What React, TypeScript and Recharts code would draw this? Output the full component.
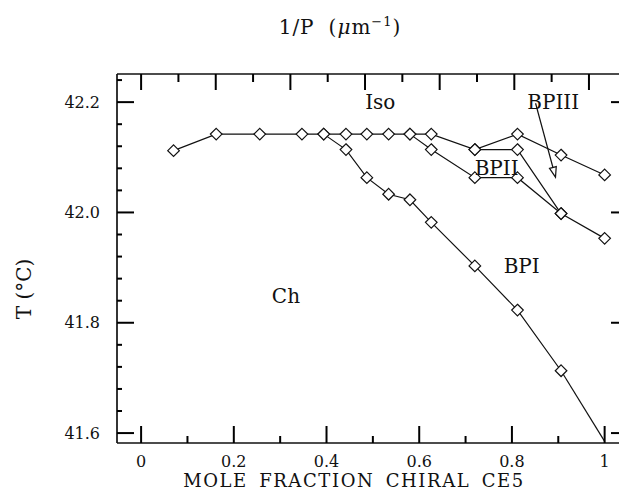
import React from 'react';
import {
  LineChart,
  Line,
  XAxis,
  YAxis,
  ReferenceLine,
  ReferenceDot,
  Customized,
} from 'recharts';

// mole fraction / temperature (°C) points
const isoBoundary = [
  { x: 0.07, t: 42.112 },
  { x: 0.162, t: 42.142 },
  { x: 0.256, t: 42.142 },
  { x: 0.347, t: 42.142 },
  { x: 0.394, t: 42.142 },
  { x: 0.442, t: 42.142 },
  { x: 0.487, t: 42.142 },
  { x: 0.534, t: 42.142 },
  { x: 0.58, t: 42.142 },
  { x: 0.626, t: 42.142 },
  { x: 0.72, t: 42.114 },
  { x: 0.812, t: 42.142 },
  { x: 0.906, t: 42.104 },
  { x: 1.0, t: 42.068 },
];

const bp3Boundary = [
  { x: 0.72, t: 42.114 },
  { x: 0.812, t: 42.114 },
  { x: 0.906, t: 41.998 },
];

const bp2Boundary = [
  { x: 0.58, t: 42.142 },
  { x: 0.626, t: 42.114 },
  { x: 0.72, t: 42.063 },
  { x: 0.812, t: 42.063 },
  { x: 0.906, t: 41.998 },
  { x: 1.0, t: 41.953 },
];

const bp1Boundary = [
  { x: 0.394, t: 42.142 },
  { x: 0.442, t: 42.114 },
  { x: 0.487, t: 42.063 },
  { x: 0.534, t: 42.033 },
  { x: 0.58, t: 42.023 },
  { x: 0.626, t: 41.982 },
  { x: 0.72, t: 41.903 },
  { x: 0.812, t: 41.823 },
  { x: 0.906, t: 41.713 },
];

// last stretch of BPI runs into the frame without a marker
const bp1Tail = [
  { x: 0.906, t: 41.713 },
  { x: 1.0, t: 41.585 },
];

const bottomMajor = [0, 0.2, 0.4, 0.6, 0.8, 1];
const bottomMinor = [0.1, 0.3, 0.5, 0.7, 0.9];
const topMajor = [0, 1, 2, 3, 4, 5, 6];
const topMinor = [0.5, 1.5, 2.5, 3.5, 4.5, 5.5];
const leftMajor = [41.6, 41.8, 42.0, 42.2];
const leftMinor = [
  41.64, 41.68, 41.72, 41.76, 41.84, 41.88, 41.92, 41.96, 42.04, 42.08, 42.12,
  42.16, 42.24,
];

const X_DOMAIN: [number, number] = [-0.052, 1.031];
const PITCH_SCALE = 6.21; // 1/P per unit mole fraction
const TOP_DOMAIN: [number, number] = [X_DOMAIN[0] * PITCH_SCALE, X_DOMAIN[1] * PITCH_SCALE];
const T_DOMAIN: [number, number] = [41.582, 42.251];

const FONT = '"DejaVu Serif", serif';
const INK = '#111';

// inward tick marks, drawn on reference dots sitting on the frame
type Dir = 'up' | 'down' | 'right' | 'left';
const tickMark = (dir: Dir, len: number) =>
  function TickMark({ cx, cy }: any) {
    if (cx == null || cy == null) return null;
    let x2 = cx;
    let y2 = cy;
    if (dir === 'up') y2 = cy - len;
    if (dir === 'down') y2 = cy + len;
    if (dir === 'right') x2 = cx + len;
    if (dir === 'left') x2 = cx - len;
    return (
      <polyline points={`${cx},${cy} ${x2},${y2}`} fill="none" stroke="#000" strokeWidth={2} />
    );
  };

const bottomLabel = (props: any) => {
  const v = props.payload.value;
  return (
    <text key={`b-${v}`} x={props.x} y={Number(props.y) + 24} textAnchor="middle" fontFamily={FONT} fontSize={16} fill={INK}>
      {String(v)}
    </text>
  );
};

const topLabel = (props: any) => {
  const v = props.payload.value;
  return (
    <text key={`t-${v}`} x={props.x} y={Number(props.y) - 5} textAnchor="middle" fontFamily={FONT} fontSize={16} fill={INK}>
      {String(v)}
    </text>
  );
};

const leftLabel = (props: any) => {
  const v = props.payload.value;
  return (
    <text key={`l-${v}`} x={Number(props.x) - 17} y={Number(props.y) + 5.5} textAnchor="end" fontFamily={FONT} fontSize={16} fill={INK}>
      {v.toFixed(1)}
    </text>
  );
};

function Diamond({ cx, cy }: any) {
  if (cx == null || cy == null) return null;
  const r = 5.8;
  return (
    <polygon
      points={`${cx},${cy - r} ${cx + r},${cy} ${cx},${cy + r} ${cx - r},${cy}`}
      fill="#fff"
      stroke={INK}
      strokeWidth={1.2}
    />
  );
}

function ArrowHead({ cx, cy }: any) {
  // points along the arrow from the BPIII label
  const dx = 0.261;
  const dy = 0.965;
  const len = 10;
  const half = 3.5;
  const bx = cx - dx * len;
  const by = cy - dy * len;
  return (
    <polygon
      points={`${cx},${cy} ${bx + dy * half},${by - dx * half} ${bx - dy * half},${by + dx * half}`}
      fill="#fff"
      stroke={INK}
      strokeWidth={1.2}
    />
  );
}

const phaseLabel = (text: string) =>
  function PhaseLabel({ cx, cy }: any) {
    return (
      <text
        x={cx}
        y={cy}
        textAnchor="middle"
        dominantBaseline="central"
        fontFamily={FONT}
        fontSize={20}
        fill={INK}
      >
        {text}
      </text>
    );
  };

function Titles() {
  return (
    <g fontFamily={FONT} fill={INK}>
      <text
        x={354}
        y={487}
        textAnchor="middle"
        fontSize={18}
        letterSpacing={1.6}
        wordSpacing={4}
      >
        MOLE FRACTION CHIRAL CE5
      </text>
      <text x={340} y={34} textAnchor="middle" fontSize={20} letterSpacing={1}>
        1/P
        <tspan dx={14}>(</tspan>
        <tspan fontStyle="italic">μ</tspan>m
        <tspan dy={-8} fontSize={13}>−1</tspan>
        <tspan dy={8}>)</tspan>
      </text>
      <text
        x={24}
        y={289}
        textAnchor="middle"
        dominantBaseline="central"
        fontSize={20}
        transform="rotate(-90 24 289)"
      >
        T (°C)
      </text>
    </g>
  );
}

const lineProps = {
  type: 'linear' as const,
  dataKey: 't',
  stroke: INK,
  strokeWidth: 1.2,
  xAxisId: 'bottom',
  yAxisId: 'left',
  isAnimationActive: false,
};

const dotAxes = { xAxisId: 'bottom', yAxisId: 'left', ifOverflow: 'visible' as const };

export default function App() {
  return (
    <div style={{ position: 'absolute', left: 0, top: 0, background: '#fff' }}>
      <LineChart width={619} height={496} margin={{ top: 0, right: 0, bottom: 0, left: 0 }}>
        <XAxis
          xAxisId="bottom"
          type="number"
          dataKey="x"
          orientation="bottom"
          domain={X_DOMAIN}
          allowDataOverflow
          ticks={bottomMajor}
          interval={0}
          height={53}
          tickSize={0}
          tickMargin={0}
          tickLine={false}
          tick={bottomLabel}
          axisLine={{ stroke: INK, strokeWidth: 1.7 }}
        />
        <XAxis
          xAxisId="top"
          type="number"
          orientation="top"
          domain={TOP_DOMAIN}
          allowDataOverflow
          ticks={topMajor}
          interval={0}
          height={74}
          tickSize={0}
          tickMargin={0}
          tickLine={false}
          tick={topLabel}
          axisLine={{ stroke: INK, strokeWidth: 1.7 }}
        />
        <YAxis
          yAxisId="left"
          type="number"
          domain={T_DOMAIN}
          allowDataOverflow
          ticks={leftMajor}
          interval={0}
          width={117}
          tickSize={0}
          tickMargin={0}
          tickLine={false}
          tick={leftLabel}
          axisLine={{ stroke: INK, strokeWidth: 1.7 }}
        />

        {/* tick marks */}
        {bottomMajor.map((v) => (
          <ReferenceDot key={`bM${v}`} {...dotAxes} x={v} y={T_DOMAIN[0]} shape={tickMark('up', 17)} />
        ))}
        {bottomMinor.map((v) => (
          <ReferenceDot key={`bm${v}`} {...dotAxes} x={v} y={T_DOMAIN[0]} shape={tickMark('up', 7)} />
        ))}
        {topMajor.map((v) => (
          <ReferenceDot key={`tM${v}`} {...dotAxes} x={v / PITCH_SCALE} y={T_DOMAIN[1]} shape={tickMark('down', 16)} />
        ))}
        {topMinor.map((v) => (
          <ReferenceDot key={`tm${v}`} {...dotAxes} x={v / PITCH_SCALE} y={T_DOMAIN[1]} shape={tickMark('down', 8)} />
        ))}
        {leftMajor.map((v) => (
          <ReferenceDot key={`lM${v}`} {...dotAxes} x={X_DOMAIN[0]} y={v} shape={tickMark('right', 17)} />
        ))}
        {leftMinor.map((v) => (
          <ReferenceDot key={`lm${v}`} {...dotAxes} x={X_DOMAIN[0]} y={v} shape={tickMark('right', 5)} />
        ))}
        {leftMajor.map((v) => (
          <ReferenceDot key={`rM${v}`} {...dotAxes} x={X_DOMAIN[1]} y={v} shape={tickMark('left', 8)} />
        ))}

        <Line {...lineProps} data={isoBoundary} dot={<Diamond />} />
        <Line {...lineProps} data={bp3Boundary} dot={<Diamond />} />
        <Line {...lineProps} data={bp2Boundary} dot={<Diamond />} />
        <Line {...lineProps} data={bp1Tail} dot={false} />
        <Line {...lineProps} data={bp1Boundary} dot={<Diamond />} />

        <ReferenceLine
          xAxisId="bottom"
          yAxisId="left"
          segment={[
            { x: 0.851, y: 42.198 },
            { x: 0.8886, y: 42.081 },
          ]}
          stroke={INK}
          strokeWidth={1.2}
        />
        <ReferenceDot {...dotAxes} x={0.894} y={42.064} shape={<ArrowHead />} />

        <ReferenceDot {...dotAxes} x={0.516} y={42.2} shape={phaseLabel('Iso')} />
        <ReferenceDot {...dotAxes} x={0.889} y={42.2} shape={phaseLabel('BPIII')} />
        <ReferenceDot {...dotAxes} x={0.767} y={42.08} shape={phaseLabel('BPII')} />
        <ReferenceDot {...dotAxes} x={0.821} y={41.902} shape={phaseLabel('BPI')} />
        <ReferenceDot {...dotAxes} x={0.3125} y={41.848} shape={phaseLabel('Ch')} />

        <Customized component={Titles} />
      </LineChart>
    </div>
  );
}
